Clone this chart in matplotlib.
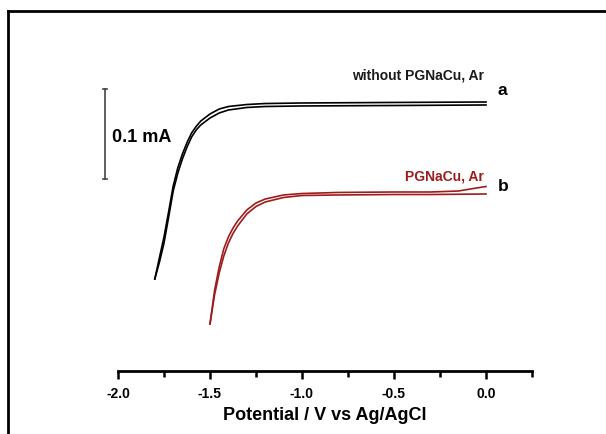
import matplotlib
matplotlib.use("Agg")
import matplotlib.pyplot as plt
from matplotlib.lines import Line2D
from matplotlib.ticker import MultipleLocator

plt.rcParams["font.family"] = ["Liberation Sans", "DejaVu Sans"]
plt.rcParams["font.weight"] = "bold"

# curve a: without PGNaCu, Ar (current in mA, potential in V)
a_fwd_E = [-1.80, -1.775, -1.75, -1.725, -1.70, -1.675, -1.65, -1.625, -1.60, -1.575,
           -1.55, -1.50, -1.45, -1.40, -1.30, -1.20, -1.00, -0.50, 0.0]
a_fwd_I = [-0.1956, -0.1770, -0.1556, -0.1270, -0.0978, -0.0780, -0.0622, -0.0490, -0.0378, -0.0300,
           -0.0244, -0.0167, -0.0111, -0.0078, -0.0050, -0.0039, -0.0033, -0.0028, -0.0022]
a_rev_E = [0.0, -0.50, -1.00, -1.20, -1.30, -1.40, -1.45, -1.50, -1.55, -1.575, -1.60,
           -1.625, -1.65, -1.675, -1.70, -1.725, -1.75, -1.775, -1.80]
a_rev_I = [0.0011, 0.0006, 0.0000, -0.0006, -0.0017, -0.0039, -0.0067, -0.0122, -0.0200, -0.0260, -0.0333,
           -0.0440, -0.0567, -0.0720, -0.0922, -0.1210, -0.1489, -0.1720, -0.1956]

# curve b: PGNaCu, Ar
b_fwd_E = [-1.50, -1.475, -1.45, -1.425, -1.40, -1.375, -1.35, -1.30, -1.25, -1.20,
           -1.10, -1.00, -0.80, -0.50, -0.30, 0.0]
b_fwd_I = [-0.2456, -0.2130, -0.1889, -0.1700, -0.1556, -0.1450, -0.1367, -0.1233, -0.1150, -0.1100,
           -0.1050, -0.1028, -0.1022, -0.1017, -0.1017, -0.1011]
b_rev_E = [0.0, -0.05, -0.15, -0.30, -0.50, -0.80, -1.00, -1.10, -1.20, -1.25, -1.30,
           -1.35, -1.375, -1.40, -1.425, -1.45, -1.475, -1.50]
b_rev_I = [-0.0928, -0.0944, -0.0978, -0.0989, -0.0989, -0.0994, -0.1006, -0.1022, -0.1067, -0.1111, -0.1189,
           -0.1311, -0.1390, -0.1489, -0.1620, -0.1822, -0.2080, -0.2456]

x_ticks = [-2.0, -1.5, -1.0, -0.5, 0.0]

red = "#9e1c1c"

fig = plt.figure(figsize=(6.06, 4.35), dpi=100)
ax = fig.add_axes([118 / 606, 63 / 435, 414 / 606, 332 / 435])

ax.plot(a_fwd_E, a_fwd_I, color="black", lw=1.2)
ax.plot(a_rev_E, a_rev_I, color="black", lw=1.2)
ax.plot(b_fwd_E, b_fwd_I, color=red, lw=1.2)
ax.plot(b_rev_E, b_rev_I, color=red, lw=1.2)

ax.set_xlim(-2.0, 0.25)
ax.set_ylim(-0.2978, 0.0711)
ax.set_xticks(x_ticks)
ax.set_xticklabels([f"{v:.1f}" for v in x_ticks], fontsize=10, fontweight="bold")
ax.xaxis.set_minor_locator(MultipleLocator(0.25))
ax.tick_params(axis="x", which="major", direction="out", length=6, width=1.8, pad=5)
ax.tick_params(axis="x", which="minor", direction="out", length=4, width=1.8)
ax.set_yticks([])
for side in ["top", "right", "left"]:
    ax.spines[side].set_visible(False)
ax.spines["bottom"].set_linewidth(2)
ax.set_xlabel("Potential / V vs Ag/AgCl", fontsize=13, fontweight="bold", labelpad=4)

# scale bar 0.1 mA
bar_x = -2.071
ax.plot([bar_x, bar_x], [0.0156, -0.0844], color="#444444", lw=1.2, clip_on=False)
for yy in [0.0156, -0.0844]:
    ax.plot([bar_x - 0.012, bar_x + 0.012], [yy, yy], color="#444444", lw=1.2, clip_on=False)
ax.text(-2.035, -0.0367, "0.1 mA", fontsize=13, fontweight="bold", va="center", ha="left")

ax.text(-0.01, 0.032, "without PGNaCu, Ar", fontsize=10, fontweight="bold",
        ha="right", va="center", color="#1a1a1a")
ax.text(0.065, 0.0155, "a", fontsize=12.5, fontweight="bold", ha="left", va="center")
ax.text(-0.01, -0.0811, "PGNaCu, Ar", fontsize=10, fontweight="bold",
        ha="right", va="center", color=red)
ax.text(0.065, -0.0922, "b", fontsize=12.5, fontweight="bold", ha="left", va="center")

# outer frame
fig.add_artist(Line2D([8 / 606, 8 / 606], [0, 1 - 12 / 435], color="black", lw=2))
fig.add_artist(Line2D([8 / 606, 1], [1 - 12 / 435, 1 - 12 / 435], color="black", lw=2))

fig.savefig("out.png", dpi=100)
